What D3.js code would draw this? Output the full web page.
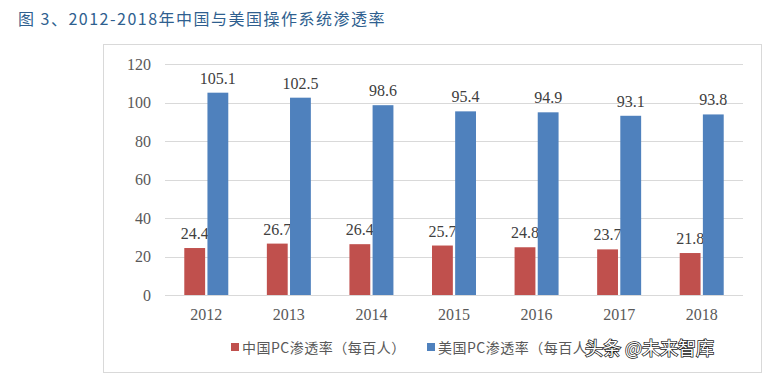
<!doctype html>
<html lang="zh">
  <head>
    <meta charset="utf-8">
    <title>2012-2018年中国与美国操作系统渗透率</title>
    <script src="https://d3js.org/d3.v7.min.js"></script>
    <style>
      body { margin: 0; background: #fff; }
    </style>
  </head>

  <body>
    <svg width="782" height="375"></svg>

    <script>
      // data
      var years = ['2012', '2013', '2014', '2015', '2016', '2017', '2018'];
      var china = [24.4, 26.7, 26.4, 25.7, 24.8, 23.7, 21.8];
      var usa = [105.1, 102.5, 98.6, 95.4, 94.9, 93.1, 93.8];
      var seriesNames = ['中国PC渗透率（每百人）', '美国PC渗透率（每百人）'];
      var yTicks = [0, 20, 40, 60, 80, 100, 120];

      var colors = ['#c0504d', '#4f81bd'];
      var serif = '"Liberation Serif", "Times New Roman", serif';
      var cjk = '"Noto Sans CJK SC", sans-serif';

      var svg = d3.select('svg');

      // title
      svg.append('text')
        .attr('x', 18).attr('y', 25)
        .style('font-family', cjk)
        .style('font-size', '16px')
        .style('fill', '#2f5f8f')
        .style('letter-spacing', '1.5px')
        .text('图 3、2012-2018年中国与美国操作系统渗透率');

      // outer chart frame
      svg.append('rect')
        .attr('x', 103.5).attr('y', 44.5)
        .attr('width', 658).attr('height', 328)
        .style('fill', 'none')
        .style('stroke', '#d9d9d9');

      var plotLeft = 165, plotRight = 743, plotTop = 64, plotBottom = 295;

      var x = d3.scaleBand().domain(years).range([plotLeft, plotRight]);
      var inner = d3.scaleBand().domain([0, 1])
        .range([x.bandwidth() / 2 - 22, x.bandwidth() / 2 + 22])
        .paddingInner(0.1);
      var y = d3.scaleLinear().domain([0, 120]).range([plotBottom, plotTop]);

      // gridlines
      svg.append('g')
        .selectAll('line')
        .data(yTicks)
        .enter().append('line')
        .attr('x1', plotLeft).attr('x2', plotRight)
        .attr('y1', function(d){ return Math.round(y(d)) + 0.5; })
        .attr('y2', function(d){ return Math.round(y(d)) + 0.5; })
        .style('stroke', '#d9d9d9');

      // y axis labels
      var yAxis = svg.append('g')
        .attr('transform', 'translate(' + (plotLeft - 14) + ',0)')
        .call(d3.axisLeft(y).tickValues(yTicks).tickSize(0).tickPadding(0));
      yAxis.select('.domain').remove();
      yAxis.selectAll('text')
        .style('font-family', serif)
        .style('font-size', '16px')
        .style('fill', '#595959');

      // x axis labels
      var xAxis = svg.append('g')
        .attr('transform', 'translate(0,' + plotBottom + ')')
        .call(d3.axisBottom(x).tickSize(0).tickPadding(14));
      xAxis.select('.domain').remove();
      xAxis.selectAll('text')
        .style('font-family', serif)
        .style('font-size', '16px')
        .style('fill', '#595959');

      var series = [china, usa];

      series.forEach(function(values, s){
        var g = svg.append('g');
        g.selectAll('rect')
          .data(values)
          .enter().append('rect')
          .attr('x', function(d, i){ return x(years[i]) + inner(s); })
          .attr('width', inner.bandwidth())
          .attr('y', function(d){ return y(d); })
          .attr('height', function(d){ return y(0) - y(d); })
          .style('fill', colors[s]);

        g.selectAll('text')
          .data(values)
          .enter().append('text')
          .attr('x', function(d, i){ return x(years[i]) + inner(s) + inner.bandwidth() / 2; })
          .attr('y', function(d){ return y(d) - 9; })
          .attr('text-anchor', 'middle')
          .style('font-family', serif)
          .style('font-size', '16px')
          .style('fill', '#404040')
          .text(function(d){ return d.toFixed(1); });
      });

      // legend
      var legendX = [231, 427];
      var legend = svg.append('g');
      seriesNames.forEach(function(name, s){
        legend.append('rect')
          .attr('x', legendX[s]).attr('y', 343)
          .attr('width', 8).attr('height', 8)
          .style('fill', colors[s]);
        legend.append('text')
          .attr('x', legendX[s] + 11).attr('y', 353)
          .style('font-family', cjk)
          .style('font-size', '14px')
          .style('fill', '#595959')
          .style('letter-spacing', '0.5px')
          .text(name);
      });

      // watermark
      svg.append('text')
        .attr('x', 585).attr('y', 355)
        .style('font-family', cjk)
        .style('font-size', '18px')
        .style('fill', '#ffffff')
        .style('stroke', '#222')
        .style('stroke-width', '1.5px')
        .style('paint-order', 'stroke')
        .text('头条 @未来智库');
    </script>
  </body>
</html>
